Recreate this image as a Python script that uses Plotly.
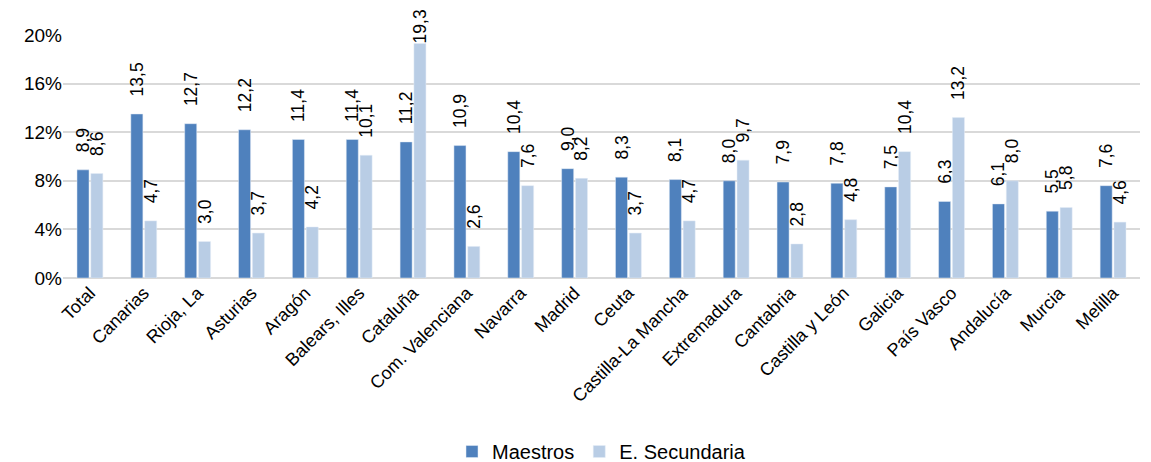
import plotly.graph_objects as go

categories = ["Total", "Canarias", "Rioja, La", "Asturias", "Aragón", "Balears, Illes",
              "Cataluña", "Com. Valenciana", "Navarra", "Madrid", "Ceuta",
              "Castilla-La Mancha", "Extremadura", "Cantabria", "Castilla y León",
              "Galicia", "País Vasco", "Andalucía", "Murcia", "Melilla"]
maestros = [8.9, 13.5, 12.7, 12.2, 11.4, 11.4, 11.2, 10.9, 10.4, 9.0, 8.3,
            8.1, 8.0, 7.9, 7.8, 7.5, 6.3, 6.1, 5.5, 7.6]
secundaria = [8.6, 4.7, 3.0, 3.7, 4.2, 10.1, 19.3, 2.6, 7.6, 8.2, 3.7,
              4.7, 9.7, 2.8, 4.8, 10.4, 13.2, 8.0, 5.8, 4.6]
y_ticks = [0, 4, 8, 12, 16, 20]

FONT = "Liberation Sans, Arial, sans-serif"
DARK = "#4F81BD"
LIGHT = "#B9CDE5"
W, H = 1151, 462
MARGIN = dict(l=55, r=19, t=27, b=192)
BARGAP = 0.486
LABEL_FONT = dict(family=FONT, size=17.5, color="#000000")
FIT_LIMIT = 17  # labels of taller bars are pulled inside the chart area


def fmt(v):
    return f"{v:.1f}".replace(".", ",")


def labels(vals):
    return ["\u00a0\u00a0\u00a0" + fmt(v) for v in vals]


def positions(vals):
    return ["outside" if v < FIT_LIMIT else "none" for v in vals]


fig = go.Figure()
for name, vals, color in [("Maestros", maestros, DARK), ("E. Secundaria", secundaria, LIGHT)]:
    fig.add_trace(go.Bar(
        name=name, x=categories, y=vals, marker_color=color,
        text=labels(vals), textposition=positions(vals), textangle=-90,
        constraintext="none", cliponaxis=False, textfont=LABEL_FONT,
    ))

# labels that would not fit above the chart area sit right on the bar end
cat_px = (W - MARGIN["l"] - MARGIN["r"]) / len(categories)
slot = (1 - BARGAP) * cat_px / 2
for side, vals in [(-1, maestros), (1, secundaria)]:
    for c, v in zip(categories, vals):
        if v >= FIT_LIMIT:
            fig.add_annotation(
                x=c, y=v, xref="x", yref="y", text=fmt(v), textangle=-90,
                showarrow=False, yanchor="bottom", xanchor="center",
                xshift=side * slot / 2, yshift=-2, font=LABEL_FONT,
            )

fig.update_layout(
    width=W, height=H,
    margin=MARGIN,
    paper_bgcolor="white", plot_bgcolor="white",
    barmode="group", bargap=BARGAP, bargroupgap=0.13,
    font=dict(family=FONT, color="#000000"),
    legend=dict(orientation="h", x=0.5, xanchor="center", xref="paper",
                y=0.04, yanchor="middle", yref="container",
                font=dict(family=FONT, size=20, color="#000000"),
                itemwidth=30, traceorder="normal"),
    showlegend=True,
)
fig.update_yaxes(
    range=[0, 20], tickvals=y_ticks, ticktext=[f"{t}%" for t in y_ticks],
    showgrid=True, gridcolor="#D9D9D9", gridwidth=1.5,
    zeroline=True, zerolinecolor="#D9D9D9", zerolinewidth=1.5,
    showline=False, ticks="", ticklen=0,
    tickfont=dict(family=FONT, size=19, color="#000000"),
)
fig.update_xaxes(
    tickangle=-45, showgrid=False, showline=False, ticks="",
    tickfont=dict(family=FONT, size=18, color="#000000"),
)

fig.write_html("out.html")
